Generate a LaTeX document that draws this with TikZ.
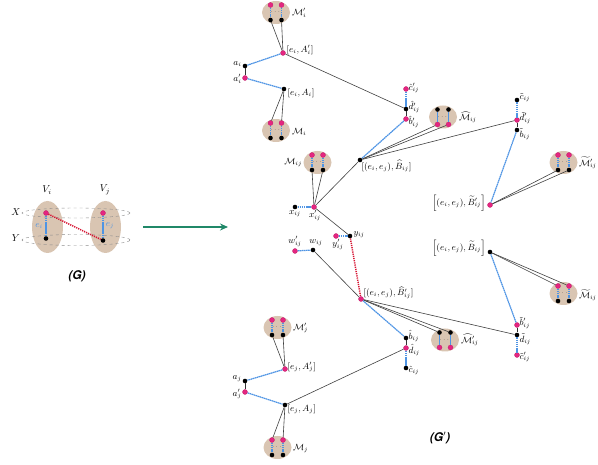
\documentclass[tikz,border=0pt]{standalone}
\usepackage{amsmath,amssymb}
\usepackage{fontspec}
\newfontfamily\gfont{TeX Gyre Heros}
\usetikzlibrary{shapes.geometric,arrows.meta}
\definecolor{clusfill}{RGB}{217,197,178}
\definecolor{pinkc}{RGB}{228,38,128}
\definecolor{bluec}{RGB}{78,148,228}
\definecolor{redc}{RGB}{214,20,50}
\definecolor{greenc}{RGB}{32,136,104}
\tikzset{
  clusell/.style={ellipse,fill=clusfill,minimum width=28pt,minimum height=23pt,inner sep=0},
  pk/.style={circle,fill=pinkc,draw=pinkc!85!black,line width=0.3pt,inner sep=0,minimum size=5pt},
  bk/.style={circle,fill=black,inner sep=0,minimum size=4.6pt},
  bl/.style={bluec,line width=1.2pt,dash pattern=on 1.6pt off 0.5pt},
  gl/.style={black!75,line width=0.6pt},
  sh/.style={black!80,line width=0.7pt},
  rd/.style={redc,line width=1.5pt,dash pattern=on 1.2pt off 1pt},
  lab/.style={font=\small,inner sep=0.3pt},
  ring/.style={ellipse,draw=black!45,dashed,line width=0.4pt,inner sep=0},
}
\newcommand\clus[5]{%
  \node[clusell] (#1) at (#2,#3) {};
  \node[font=\tiny,inner sep=0] (#1-d) at (#2,#3) {$\cdots$};
  \node[#4] (#1-t1) at (#2-5.5,#3-7.5) {};
  \node[#4] (#1-t2) at (#2+5.5,#3-7.5) {};
  \node[#5] (#1-b1) at (#2-5.5,#3+7.5) {};
  \node[#5] (#1-b2) at (#2+5.5,#3+7.5) {};
  \draw[bl] (#1-t1) -- (#1-b1);
  \draw[bl] (#1-t2) -- (#1-b2);
}
\begin{document}
\begin{tikzpicture}[x=1pt,y=-1pt]
\useasboundingbox (0,0) rectangle (598,465);

% ---------------- (G) ----------------
\node[ellipse,fill=clusfill,minimum width=31pt,minimum height=52pt,inner sep=0] (Vi) at (47.5,227) {};
\node[ellipse,fill=clusfill,minimum width=31pt,minimum height=52pt,inner sep=0] (Vj) at (105.5,227) {};
\node[ring,minimum width=108pt,minimum height=10pt] (ringX) at (76,213) {};
\node[ring,minimum width=108pt,minimum height=11pt] (ringY) at (76,240) {};
\node[lab,font=\normalsize] (Vil) at (47,190) {$V_i$};
\node[lab,font=\normalsize] (Vjl) at (105,190) {$V_j$};
\node[lab,font=\normalsize] (Xl) at (16,212) {$X$};
\node[lab,font=\normalsize] (Yl) at (16,238) {$Y$};
\node[pk] (gpi) at (46,213) {};
\node[bk] (gbi) at (46,238.5) {};
\node[pk] (gpj) at (103,213) {};
\node[bk] (gbj) at (103,240.5) {};
\draw[bl] (gpi) -- (gbi);
\draw[bl] (gpj) -- (gbj);
\draw[rd] (gpi) -- (gbj);
\node[lab,text=bluec] (eil) at (39,226) {$e_i$};
\node[lab,text=bluec] (ejl) at (110,226) {$e_j$};
\node[font=\gfont\bfseries\itshape\large] (Gl) at (77,276) {(G)};
\coordinate (arS) at (143,227);
\coordinate (arE) at (228,227);
\draw[greenc,line width=1.7pt,-{Stealth[length=8pt,width=7pt]}] (arS) -- (arE);

% ---------------- clusters ----------------
\clus{Mpi}{276}{12.5}{pk}{bk}
\clus{Mi}{276}{130.5}{pk}{bk}
\clus{Mij}{317.5}{162.5}{pk}{bk}
\clus{Mh}{443}{117}{bk}{pk}
\clus{Mtp}{563.5}{162.5}{pk}{bk}
\clus{Mt}{563.5}{293.5}{pk}{bk}
\clus{Mhp}{445}{340}{bk}{pk}
\clus{Mpj}{277.5}{327.5}{pk}{bk}
\clus{Mj}{277.5}{447.5}{pk}{bk}
\node[lab,anchor=west] (Mpil) at (291.5,13) {$\mathcal{M}'_i$};
\node[lab,anchor=west] (Mil) at (291.5,132) {$\mathcal{M}_i$};
\node[lab,anchor=east] (Mijl) at (302.5,163) {$\mathcal{M}_{ij}$};
\node[lab,anchor=west] (Mhl) at (458.5,117) {$\widehat{\mathcal{M}}_{ij}$};
\node[lab,anchor=west] (Mtpl) at (578.5,163) {$\widetilde{\mathcal{M}}'_{ij}$};
\node[lab,anchor=west] (Mtl) at (578.5,295) {$\widetilde{\mathcal{M}}_{ij}$};
\node[lab,anchor=west] (Mhpl) at (460.5,340) {$\widehat{\mathcal{M}}'_{ij}$};
\node[lab,anchor=west] (Mpjl) at (292.5,328) {$\mathcal{M}'_j$};
\node[lab,anchor=west] (Mjl) at (292.5,449) {$\mathcal{M}_j$};

% ---------------- nodes ----------------
\node[pk] (eiAp) at (283,53) {};
\node[bk] (ai) at (245,66) {};
\node[pk] (aip) at (245,78) {};
\node[bk] (eiA) at (284,89) {};
\node[pk] (chp) at (406,89) {};
\node[bk] (dhp) at (406,109) {};
\node[pk] (bhp) at (406,119) {};
\node[bk] (Bh) at (360,160) {};
\node[bk] (ct) at (517,100) {};
\node[pk] (dtp) at (517,120) {};
\node[bk] (bt) at (517,130) {};
\node[pk] (Btp) at (490,205) {};
\node[bk] (Bt) at (490,252) {};
\node[bk] (x) at (295,207) {};
\node[pk] (xp) at (314,207) {};
\node[pk] (yp) at (336,236) {};
\node[bk] (y) at (350,236) {};
\node[pk] (wp) at (295,251) {};
\node[bk] (w) at (313,250) {};
\node[pk] (Bhp) at (361,299) {};
\node[bk] (bh) at (406,338) {};
\node[pk] (dh) at (406,348) {};
\node[bk] (ch) at (406,368) {};
\node[pk] (btp) at (517,325) {};
\node[bk] (dt) at (517,335) {};
\node[pk] (ctp) at (517,355) {};
\node[pk] (ejAp) at (285,369) {};
\node[bk] (aj) at (245,381) {};
\node[pk] (ajp) at (245,392) {};
\node[bk] (ejA) at (285,405) {};

% ---------------- labels ----------------
\node[lab,anchor=west] (eiApl) at (286,50) {$[e_i, A'_i]$};
\node[lab,anchor=east] (ail) at (242,64) {$a_i$};
\node[lab,anchor=east] (aipl) at (242,79) {$a'_i$};
\node[lab,anchor=west] (eiAl) at (287,93) {$[e_i, A_i]$};
\node[lab,anchor=west] (chpl) at (408,88) {$\hat{c}'_{ij}$};
\node[lab,anchor=west] (dhpl) at (408,107) {$\hat{d}'_{ij}$};
\node[lab,anchor=west] (bhpl) at (408,122) {$\hat{b}'_{ij}$};
\node[lab,anchor=north west] (Bhl) at (361,160) {$[(e_i, e_j), \widehat{B}_{ij}]$};
\node[lab,anchor=west] (ctl) at (519,98) {$\tilde{c}_{ij}$};
\node[lab,anchor=west] (dtpl) at (519,118) {$\tilde{d}'_{ij}$};
\node[lab,anchor=west] (btl) at (519,134) {$\tilde{b}_{ij}$};
\node[lab,anchor=east] (Btpl) at (486,203) {$\Big[(e_i, e_j), \widetilde{B}'_{ij}\Big]$};
\node[lab,anchor=east] (Btl) at (486,248) {$\Big[(e_i, e_j), \widetilde{B}_{ij}\Big]$};
\node[lab,anchor=north] (xl) at (295,210) {$x_{ij}$};
\node[lab,anchor=north] (xpl) at (315,210) {$x'_{ij}$};
\node[lab,anchor=north] (ypl) at (338,239) {$y'_{ij}$};
\node[lab,anchor=west] (yl) at (353,235) {$y_{ij}$};
\node[lab,anchor=south] (wpl) at (295,247) {$w'_{ij}$};
\node[lab,anchor=south] (wl) at (316,246) {$w_{ij}$};
\node[lab,anchor=west] (Bhpl) at (363,293) {$[(e_i, e_j), \widehat{B}'_{ij}]$};
\node[lab,anchor=west] (bhl) at (408,336) {$\hat{b}_{ij}$};
\node[lab,anchor=west] (dhl) at (408,350) {$\hat{d}_{ij}$};
\node[lab,anchor=west] (chl) at (408,370) {$\hat{c}_{ij}$};
\node[lab,anchor=west] (btpl) at (519,323) {$\tilde{b}'_{ij}$};
\node[lab,anchor=west] (dtl) at (519,339) {$\tilde{d}_{ij}$};
\node[lab,anchor=west] (ctpl) at (519,357) {$\tilde{c}'_{ij}$};
\node[lab,anchor=west] (ejApl) at (287,367) {$[e_j, A'_j]$};
\node[lab,anchor=east] (ajl) at (242,379) {$a_j$};
\node[lab,anchor=east] (ajpl) at (242,394) {$a'_j$};
\node[lab,anchor=west] (ejAl) at (287,409) {$[e_j, A_j]$};
\node[font=\gfont\bfseries\itshape\large] (Gpl) at (440,438) {(G$'$)};

% ---------------- gray connectors ----------------
\draw[gl] (Mpi-b1) -- (eiAp);
\draw[gl] (Mpi-b2) -- (eiAp);
\draw[gl] (eiA) -- (Mi-t1);
\draw[gl] (eiA) -- (Mi-t2);
\draw[gl] (eiAp) -- (dhp);
\draw[sh] (ai) -- (aip);
\draw[sh] (dhp) -- (bhp);
\draw[gl] (Mij-b1) -- (xp);
\draw[gl] (Mij-b2) -- (xp);
\draw[gl] (xp) -- (Bh);
\draw[gl] (xp) -- (y);
\draw[gl] (Bh) -- (Mh-b1);
\draw[gl] (Bh) -- (Mh-b2);
\draw[gl] (Bh) -- (dtp);
\draw[sh] (dtp) -- (bt);
\draw[gl] (Btp) -- (Mtp-b1);
\draw[gl] (Btp) -- (Mtp-b2);
\draw[gl] (w) -- (Bhp);
\draw[gl] (Bhp) -- (Mhp-t1);
\draw[gl] (Bhp) -- (Mhp-t2);
\draw[gl] (Bhp) -- (dt);
\draw[sh] (btp) -- (dt);
\draw[gl] (Bt) -- (Mt-t1);
\draw[gl] (Bt) -- (Mt-t2);
\draw[gl] (Mpj-b1) -- (ejAp);
\draw[gl] (Mpj-b2) -- (ejAp);
\draw[sh] (aj) -- (ajp);
\draw[gl] (ejA) -- (Mj-t1);
\draw[gl] (ejA) -- (Mj-t2);
\draw[gl] (ejA) -- (dh);
\draw[sh] (bh) -- (dh);

% ---------------- blue connectors ----------------
\draw[bl] (eiAp) -- (ai);
\draw[bl] (aip) -- (eiA);
\draw[bl] (chp) -- (dhp);
\draw[bl] (bhp) -- (Bh);
\draw[bl] (ct) -- (dtp);
\draw[bl] (bt) -- (Btp);
\draw[bl] (x) -- (xp);
\draw[bl] (yp) -- (y);
\draw[bl] (wp) -- (w);
\draw[bl] (Bhp) -- (bh);
\draw[bl] (dh) -- (ch);
\draw[bl] (btp) -- (Bt);
\draw[bl] (dt) -- (ctp);
\draw[bl] (ejAp) -- (aj);
\draw[bl] (ajp) -- (ejA);

% ---------------- red dotted ----------------
\draw[rd] (y) -- (Bhp);
\end{tikzpicture}
\end{document}
